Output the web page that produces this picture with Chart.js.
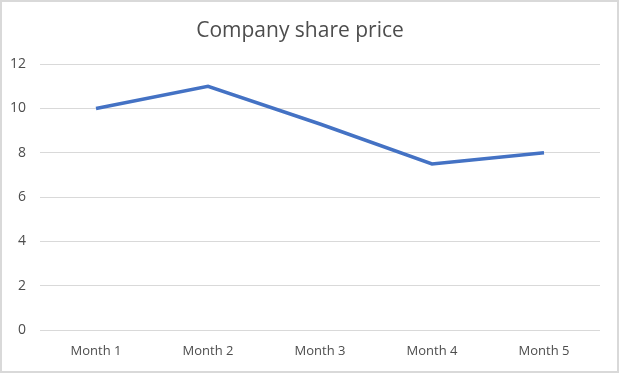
<!DOCTYPE html>
<html>
<head>
<meta charset="utf-8">
<script src="https://cdn.jsdelivr.net/npm/chart.js@4"></script>
<style>
    html, body { margin: 0; padding: 0; background: #fff; }
    #wrap { width: 619px; height: 373px; position: relative; }
</style>
</head>
<body>
<div id="wrap"><canvas id="chart" width="619" height="373"></canvas></div>
<script>
// data
var months = ["Month 1", "Month 2", "Month 3", "Month 4", "Month 5"];
var sharePrice = [10, 11, 9.3, 7.5, 8];
var yTicks = [0, 2, 4, 6, 8, 10, 12];

// white background and thin grey frame round the chart
var frame = {
    id: 'frame',
    beforeDraw: function(chart) {
        var ctx = chart.ctx;
        ctx.save();
        ctx.fillStyle = '#fff';
        ctx.fillRect(0, 0, chart.width, chart.height);
        ctx.strokeStyle = '#d9d9d9';
        ctx.lineWidth = 2;
        ctx.strokeRect(1, 1, chart.width - 2, chart.height - 2);
        ctx.restore();
    }
};

new Chart(document.getElementById('chart'), {
    type: 'line',
    data: {
        labels: months,
        datasets: [{
            label: 'Share price',
            data: sharePrice,
            borderColor: '#4472c4',
            borderWidth: 3.5,
            pointRadius: 0,
            tension: 0,
            fill: false
        }]
    },
    options: {
        responsive: false,
        animation: false,
        layout: {
            padding: { left: 0, right: 19, top: 0, bottom: 0 }
        },
        plugins: {
            legend: { display: false },
            tooltip: { enabled: false },
            title: {
                display: true,
                text: 'Company share price',
                color: '#4d4d4d',
                font: { family: 'Open Sans', size: 21, weight: 'normal' },
                padding: { top: 18, bottom: 21 }
            }
        },
        scales: {
            x: {
                offset: true,
                grid: { display: false, drawTicks: false },
                border: { display: false },
                ticks: {
                    color: '#4d4d4d',
                    padding: 13,
                    maxRotation: 0,
                    font: { family: 'Open Sans', size: 13 }
                },
                afterFit: function(scale) {
                    scale.height = 43;
                }
            },
            y: {
                min: 0,
                max: 12,
                afterBuildTicks: function(scale) {
                    scale.ticks = yTicks.map(function(v) { return { value: v }; });
                },
                grid: { color: '#d9d9d9', lineWidth: 1, drawTicks: false },
                border: { display: false },
                ticks: {
                    color: '#4d4d4d',
                    padding: 14,
                    font: { family: 'Open Sans', size: 14 }
                },
                afterFit: function(scale) {
                    scale.width = 40;
                }
            }
        }
    },
    plugins: [frame]
});
</script>
</body>
</html>
